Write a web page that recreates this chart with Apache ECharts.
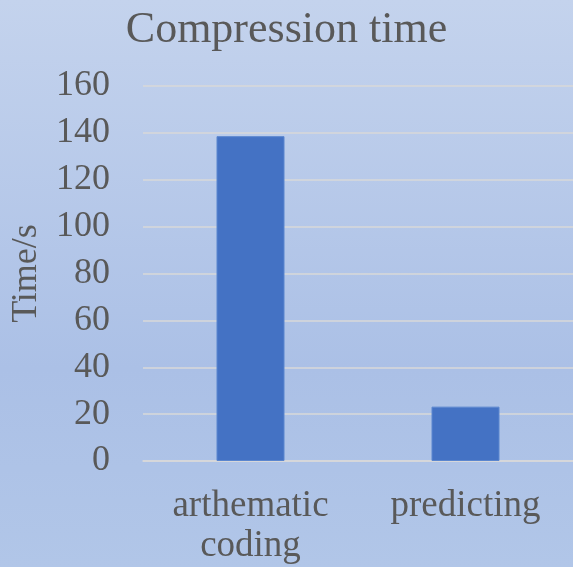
<!DOCTYPE html>
<html>
<head>
<meta charset="utf-8">
<script src="https://cdn.jsdelivr.net/npm/echarts@6/dist/echarts.min.js"></script>
<style>
  html, body { margin: 0; padding: 0; }
  #main { width: 573px; height: 567px; }
</style>
</head>
<body>
<div id="main"></div>
<script>
// data
var categories = ['arthematic\ncoding', 'predicting'];
var times = [138.6, 23.2];

var chart = echarts.init(document.getElementById('main'));
var font = '"Liberation Serif", "Times New Roman", serif';
var textColor = '#595959';

var option = {
    backgroundColor: {
        type: 'linear', x: 0, y: 0, x2: 0, y2: 1,
        colorStops: [
            { offset: 0, color: '#c4d3ed' },
            { offset: 0.65, color: '#abc0e6' },
            { offset: 1, color: '#b1c6e8' }
        ]
    },
    // ---- 标题 ----
    title: {
        text: 'Compression time',
        left: 'center',
        top: 3,
        textStyle: {
            fontFamily: font,
            fontSize: 44,
            fontWeight: 'normal',
            color: textColor
        }
    },
    grid: {
        left: 143,
        right: 0,
        top: 86,
        bottom: 106,
        containLabel: false,
        outerBoundsMode: 'none'
    },
    xAxis: {
        type: 'category',
        data: categories,
        axisLine: { show: true, lineStyle: { color: '#d9d9d9', width: 1.5 } },
        axisTick: { show: false },
        axisLabel: {
            interval: 0,
            margin: 25,
            fontFamily: font,
            fontSize: 37,
            lineHeight: 40,
            color: textColor
        }
    },
    yAxis: {
        type: 'value',
        min: 0,
        max: 160,
        interval: 20,
        name: 'Time/s',
        nameLocation: 'middle',
        nameGap: 98,
        nameRotate: 90,
        nameTextStyle: {
            fontFamily: font,
            fontSize: 36,
            color: textColor
        },
        axisLine: { show: false },
        axisTick: { show: false },
        axisLabel: {
            margin: 33,
            fontFamily: font,
            fontSize: 36,
            color: textColor
        },
        splitLine: {
            show: true,
            lineStyle: { color: '#d9d9d9', width: 1.5 }
        }
    },
    series: [{
        type: 'bar',
        data: times,
        barWidth: 68,
        itemStyle: {
            color: '#4472c4',
            borderColor: '#5b86cf',
            borderWidth: 1
        }
    }]
};
chart.setOption(option);
</script>
</body>
</html>
